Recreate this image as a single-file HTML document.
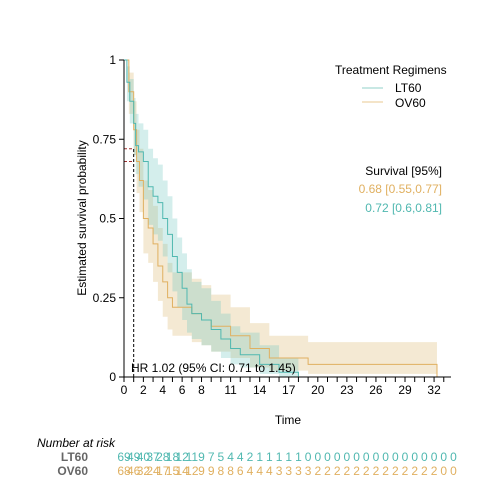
<!DOCTYPE html>
<html><head><meta charset="utf-8"><style>
body{margin:0;background:#fff;font-family:"Liberation Sans",sans-serif}
svg text{font-family:"Liberation Sans",sans-serif}
</style></head><body>
<svg id="c" width="480" height="480" xmlns="http://www.w3.org/2000/svg"></svg>
<script>
const xTicks=[0,2,4,6,8,11,14,17,20,23,26,29,32];
const yTicks=[0,0.25,0.5,0.75,1];
const yTickLabels=["0","0.25","0.5","0.75","1"];
const ltTimes=[0,0.3,0.6,1,1.2,1.5,2,2.5,3,3.5,4,4.5,5,5.5,6,6.5,7,8,9,10,11,12,14,16,18];
const ltSurv=[1,0.93,0.87,0.8,0.73,0.71,0.68,0.6,0.57,0.55,0.5,0.45,0.38,0.33,0.28,0.23,0.2,0.18,0.15,0.12,0.09,0.07,0.04,0.015,0];
const ltLow=[1,0.87,0.8,0.7,0.64,0.6,0.56,0.48,0.45,0.43,0.38,0.33,0.27,0.22,0.18,0.14,0.12,0.1,0.08,0.06,0.04,0.03,0.01,0,0];
const ltHigh=[1,0.98,0.94,0.88,0.83,0.8,0.78,0.72,0.69,0.67,0.62,0.57,0.5,0.44,0.39,0.34,0.3,0.28,0.24,0.2,0.16,0.14,0.1,0.06,0.06];
const ovTimes=[0,0.5,1,1.3,1.6,2,2.5,3,3.5,4,4.5,5,7,8,9,11,13,15,19,32.3];
const ovSurv=[1,0.9,0.78,0.68,0.62,0.5,0.47,0.42,0.35,0.3,0.25,0.22,0.2,0.18,0.16,0.13,0.09,0.06,0.04,0];
const ovLow=[1,0.83,0.7,0.58,0.52,0.39,0.36,0.3,0.24,0.19,0.15,0.13,0.11,0.1,0.08,0.06,0.03,0.02,0.01,0];
const ovHigh=[1,0.96,0.87,0.78,0.72,0.62,0.59,0.54,0.47,0.42,0.36,0.33,0.31,0.29,0.26,0.22,0.17,0.13,0.11,0.11];
const ltRisk=[69,49,40,37,28,18,12,11,9,7,5,4,4,2,1,1,1,1,1,0,0,0,0,0,0,0,0,0,0,0,0,0,0,0,0];
const ovRisk=[68,46,32,24,17,15,14,12,9,9,8,8,6,4,4,4,3,3,3,3,2,2,2,2,2,2,2,2,2,2,2,2,2,0,0];
const X0=124,XS=9.69,Y0=377,Y1=60;
const sx=t=>X0+t*XS, sy=v=>Y0-(Y0-Y1)*v;
const svg=document.getElementById('c');const NS='http://www.w3.org/2000/svg';
function mk(tag,attrs,txt){const e=document.createElementNS(NS,tag);for(const k in attrs)e.setAttribute(k,attrs[k]);if(txt!==undefined)e.textContent=txt;svg.appendChild(e);return e;}
function stepPath(T,V,end){let d=`M${sx(T[0])},${sy(V[0])}`;for(let i=1;i<T.length;i++){d+=`H${sx(T[i])}V${sy(V[i])}`;}if(end!==undefined)d+=`H${sx(end)}`;return d;}
function band(T,L,H,end){const n=T.length-1;let d=`M${sx(T[0])},${sy(H[0])}`;for(let i=1;i<n;i++)d+=`H${sx(T[i])}V${sy(H[i])}`;d+=`H${sx(end)}V${sy(L[n-1])}`;for(let i=n-1;i>=1;i--)d+=`H${sx(T[i])}V${sy(L[i-1])}`;d+=`H${sx(T[0])}Z`;return d;}
let e;
e=mk('path',{d:band(ovTimes,ovLow,ovHigh,32.3),fill:'#e0c080','fill-opacity':0.35});

e=mk('path',{d:band(ltTimes,ltLow,ltHigh,18),fill:'#70c8c0','fill-opacity':0.3});

e=mk('path',{d:stepPath(ovTimes,ovSurv),fill:'none',stroke:'#e0b060','stroke-width':1});

e=mk('path',{d:stepPath(ltTimes,ltSurv),fill:'none',stroke:'#50b8b0','stroke-width':1});

e=mk('path',{d:`M${sx(1)},${Y0}V${sy(0.72)}`,stroke:'#000','stroke-width':1,'stroke-dasharray':'3,2',fill:'none'});

e=mk('path',{d:`M${X0},${sy(0.72)}H${sx(1)}M${X0},${sy(0.68)}H${sx(1)}`,stroke:'#a03030','stroke-width':1,'stroke-dasharray':'3,2',fill:'none'});

e=mk('path',{d:`M${X0},${Y1}V${Y0}H451`,stroke:'#000',fill:'none'});

for(let t=0;t<=33;t++){e=mk('line',{x1:sx(t),x2:sx(t),y1:Y0,y2:Y0+5,stroke:'#000'});}
xTicks.forEach(t=>{e=mk('text',{x:sx(t),y:Y0+17,'text-anchor':'middle','font-size':12,fill:'#000'},String(t));});
yTicks.forEach((v,i)=>{e=mk('line',{x1:X0-5,x2:X0,y1:sy(v),y2:sy(v),stroke:'#000'});
e=mk('text',{x:X0-8,y:sy(v)+4,'text-anchor':'end','font-size':12,fill:'#000'},yTickLabels[i]);});
e=mk('text',{x:0,y:0,transform:'translate(86,218) rotate(-90)','text-anchor':'middle','font-size':12},'Estimated survival probability');

e=mk('text',{x:288,y:424,'text-anchor':'middle','font-size':12},'Time');

e=mk('text',{x:131,y:372,'font-size':12},'HR 1.02 (95% CI: 0.71 to 1.45)');

e=mk('text',{x:335,y:74,'font-size':12},'Treatment Regimens');
e=mk('line',{x1:362,x2:383,y1:88,y2:88,stroke:'#90d0c8'});
e=mk('text',{x:395,y:92,'font-size':12},'LT60');
e=mk('line',{x1:362,x2:383,y1:102,y2:102,stroke:'#e8c890'});
e=mk('text',{x:395,y:107,'font-size':12},'OV60');
e=mk('text',{x:442,y:175,'text-anchor':'end','font-size':12},'Survival [95%]');
e=mk('text',{x:442,y:193,'text-anchor':'end','font-size':12,fill:'#e0b060'},'0.68 [0.55,0.77]');
e=mk('text',{x:442,y:212,'text-anchor':'end','font-size':12,fill:'#50b8b0'},'0.72 [0.6,0.81]');
e=mk('text',{x:37,y:447,'font-size':12,'font-style':'italic'},'Number at risk');
e=mk('text',{x:88,y:461,'text-anchor':'end','font-size':12,'font-weight':'bold',fill:'#666'},'LT60');
e=mk('text',{x:88,y:475,'text-anchor':'end','font-size':12,'font-weight':'bold',fill:'#666'},'OV60');
ltRisk.forEach((n,i)=>{e=mk('text',{x:sx(i),y:461,'text-anchor':'middle','font-size':12,fill:'#50b8b0'},String(n));});
ovRisk.forEach((n,i)=>{e=mk('text',{x:sx(i),y:475,'text-anchor':'middle','font-size':12,fill:'#e0b060'},String(n));});
</script>
</body></html>
